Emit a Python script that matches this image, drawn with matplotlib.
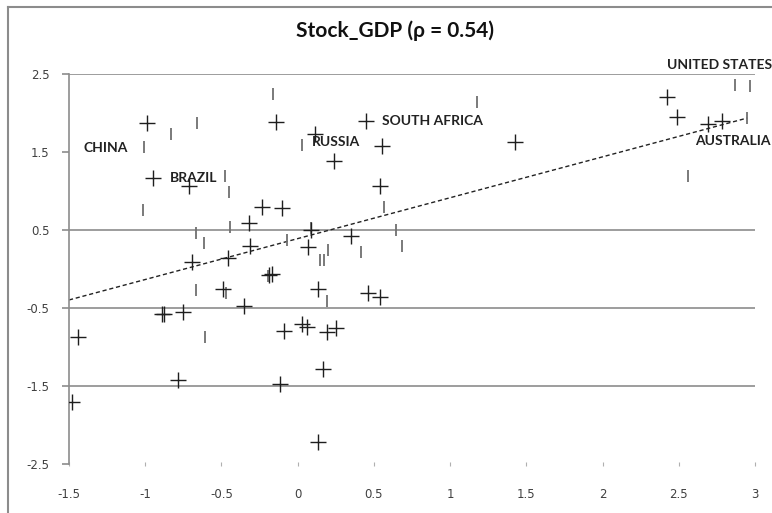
import matplotlib
matplotlib.use('Agg')
import matplotlib.pyplot as plt
from matplotlib.lines import Line2D

# '+' points (black)
plus_x = [-0.99, -0.946, -0.71, -0.14, 0.445, 0.112, 0.55, 0.237, 0.539, 1.426,
          2.424, 2.488, 2.692, 2.784, -0.232, -0.102, -0.32, -0.311, -0.692, -0.458,
          0.09, 0.068, 0.351, -0.19, -0.17, -0.488, 0.131, 0.462, 0.543, -0.355,
          -0.893, -0.875, -0.754, -1.443, -0.087, 0.026, 0.062, 0.19, 0.254, 0.166,
          -0.788, -0.118, -1.48, 0.131]
plus_y = [1.87, 1.17, 1.06, 1.89, 1.90, 1.73, 1.58, 1.38, 1.06, 1.63,
          2.21, 1.95, 1.86, 1.90, 0.80, 0.78, 0.59, 0.30, 0.09, 0.14,
          0.50, 0.28, 0.42, -0.08, -0.07, -0.25, -0.25, -0.31, -0.355, -0.48,
          -0.58, -0.58, -0.55, -0.876, -0.79, -0.705, -0.745, -0.81, -0.76, -1.286,
          -1.42, -1.477, -1.70, -2.22]

# '|' points (grey)
bar_x = [-0.828, -0.659, -1.005, -0.475, -0.451, -0.162, 0.03, 1.174, 2.871, 2.965,
         2.948, 2.558, -1.016, -0.442, -0.666, -0.616, -0.069, 0.199, 0.145, 0.171,
         0.418, 0.567, 0.642, 0.685, -0.666, -0.473, 0.194, -0.606, -0.197, 0.085]
bar_y = [1.73, 1.87, 1.56, 1.19, 0.99, 2.25, 1.59, 2.14, 2.36, 2.34,
         1.93, 1.19, 0.76, 0.54, 0.46, 0.33, 0.37, 0.25, 0.115, 0.115,
         0.22, 0.80, 0.50, 0.30, -0.27, -0.31, -0.41, -0.87, -0.09, 0.52]

# trend line end points
trend_x = [-1.5, 2.95]
trend_y = [-0.397, 1.936]

# country labels
labels = ['CHINA', 'BRAZIL', 'RUSSIA', 'SOUTH AFRICA', 'UNITED STATES', 'AUSTRALIA']
label_x = [-1.406, -0.841, 0.09, 0.556, 2.424, 2.608]
label_y = [1.55, 1.17, 1.63, 1.90, 2.62, 1.64]

xticks = [-1.5, -1, -0.5, 0, 0.5, 1, 1.5, 2, 2.5, 3]
xtick_labels = ['-1.5', '-1', '-0.5', '0', '0.5', '1', '1.5', '2', '2.5', '3']
yticks = [-2.5, -1.5, -0.5, 0.5, 1.5, 2.5]
ytick_labels = ['-2.5', '-1.5', '-0.5', '0.5', '1.5', '2.5']
grid_levels = [2.5, 0.5, -0.5, -1.5]

fig = plt.figure(figsize=(7.72, 5.13), dpi=100)
ax = fig.add_axes([69/772, 1 - 464/513, 686/772, 390/513])

grey = '#8c8c8c'
for g in grid_levels:
    ax.axhline(g, color=grey, lw=1.2, zorder=1)

ax.plot(trend_x, trend_y, linestyle=(0, (3, 2)), color='#222222', lw=1.0, zorder=2)
ax.plot(bar_x, bar_y, '|', ms=9, mew=1.3, color='#707070', linestyle='none', zorder=3)
ax.plot(plus_x, plus_y, '+', ms=11, mew=1.0, color='#1e1e1e', linestyle='none', zorder=4)

for t, x, y in zip(labels, label_x, label_y):
    ax.text(x, y, t, fontsize=10, fontweight='bold', family=['Lato', 'DejaVu Sans'],
            color='#222222', ha='left', va='center', clip_on=False, zorder=5)

ax.set_xlim(-1.5, 3)
ax.set_ylim(-2.5, 2.5)
ax.set_xticks(xticks)
ax.set_xticklabels(xtick_labels)
ax.set_yticks(yticks)
ax.set_yticklabels(ytick_labels)

for s in ['top', 'right', 'bottom']:
    ax.spines[s].set_visible(False)
ax.spines['left'].set_color(grey)
ax.spines['left'].set_linewidth(1.2)

ax.tick_params(axis='y', length=5, width=1.2, color=grey, pad=9)
ax.tick_params(axis='x', length=3, width=0.8, color='#b0b0b0', direction='inout', pad=16)
for lab in ax.get_xticklabels() + ax.get_yticklabels():
    lab.set_family(['Liberation Sans Narrow', 'DejaVu Sans'])
    lab.set_fontsize(8.5)
    lab.set_color('#404040')

fig.text(395/772, 1 - 31/513, 'Stock_GDP (\u03c1 = 0.54)', fontsize=15, fontweight='bold',
         family=['Lato', 'DejaVu Sans'], ha='center', va='center', color='#111111')

# chart border (left and top edges visible)
fig.add_artist(Line2D([8/772, 8/772], [0, 1 - 7/513], transform=fig.transFigure, color='#8c8c8c', lw=1.5))
fig.add_artist(Line2D([8/772, 1], [1 - 7/513, 1 - 7/513], transform=fig.transFigure, color='#8c8c8c', lw=1.5))

fig.savefig('out.png', dpi=100)
